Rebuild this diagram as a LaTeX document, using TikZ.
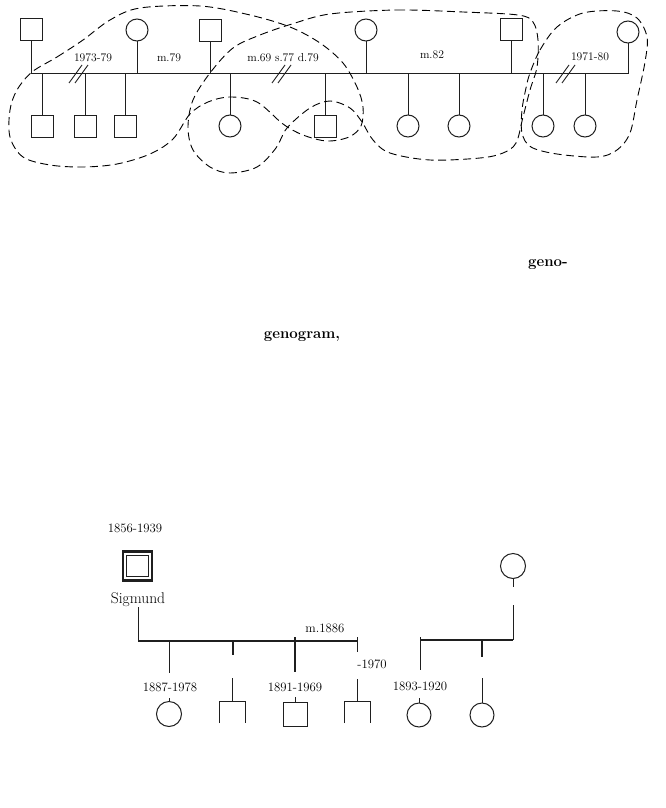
\documentclass[tikz,border=0pt]{standalone}
\usetikzlibrary{calc}
\tikzset{
  rel/.style={line width=0.9pt,draw=black!88},
  thickrel/.style={line width=1.8pt,draw=black!88},
  famline/.style={line width=2.3pt,draw=black!88},
  sq/.style={draw=black!88,line width=1pt,minimum size=22pt,inner sep=0pt},
  circ/.style={circle,draw=black!88,line width=1pt,minimum size=22pt,inner sep=0pt},
  opensq/.style={minimum width=25pt,minimum height=21pt,inner sep=0pt},
  boundary/.style={line width=0.9pt,dash pattern=on 8pt off 4.5pt,smooth cycle,tension=0.55},
  toplabel/.style={font=\fontsize{11.6}{13}\selectfont,inner sep=0pt,anchor=base},
  datelabel/.style={font=\fontsize{12.8}{14}\selectfont,inner sep=0pt,anchor=base},
  namelabel/.style={font=\fontsize{15.5}{17}\selectfont,inner sep=0pt,anchor=base},
  cutword/.style={font=\fontsize{15}{17}\selectfont\bfseries,inner sep=0pt,anchor=base}
}

\begin{document}
\begin{tikzpicture}[x=1pt,y=-1pt]
  \useasboundingbox (0,0) rectangle (665,808);

  % upper chart: three marriages on one line
  \coordinate (bar) at (0,73);
  \node[sq]   (m1) at (31,30) {};
  \node[circ] (f1) at (137,30) {};
  \node[sq]   (m2) at (210,31) {};
  \node[circ] (f2) at (366,30) {};
  \node[sq]   (m3) at (511,30) {};
  \node[circ] (f3) at (628,32) {};

  \draw[rel] (m1) -- (m1 |- bar) -- (f3 |- bar) -- (f3);
  \foreach \p in {f1,m2,f2,m3}
    \draw[rel] (\p) -- (\p |- bar);

  \foreach \n/\x/\s in {c1/42/sq,c2/85/sq,c3/125/sq,c4/230/circ,c5/325/sq,
                        c6/408/circ,c7/459/circ,c8/543/circ,c9/585/circ} {
    \node[\s] (\n) at (\x,126) {};
    \draw[rel] (\n) -- (\n |- bar);
  }

  \foreach \x in {79,282,566} {
    \draw[rel] (\x-10,83) -- (\x+3,65);
    \draw[rel] (\x-4,83) -- (\x+9,65);
  }

  \node[toplabel] (d1) at (93,62) {1973-79};
  \node[toplabel] (d2) at (169,62) {m.79};
  \node[toplabel] (d3) at (283,62) {m.69 s.77 d.79};
  \node[toplabel] (d4) at (432,59) {m.82};
  \node[toplabel] (d5) at (590,61) {1971-80};

  % household boundaries
  \draw[boundary] plot coordinates {(32,72) (57,57) (83,40) (110,20) (140,8)
    (200,6) (250,15) (290,27) (320,43) (343,63) (357,87) (363,107) (361,126)
    (349,137) (327,141) (303,135) (283,124) (257,102) (230,97) (208,102)
    (190,114) (173,139) (150,154) (117,164) (83,167) (50,165) (23,157)
    (10,137) (10,110) (17,90)};
  \draw[boundary] plot coordinates {(330,14) (397,10) (463,12) (518,15)
    (533,22) (538,40) (537,67) (530,90) (523,117) (516,143) (503,153)
    (480,158) (430,160) (390,153) (373,140) (362,122) (350,108) (330,101)
    (310,108) (287,128) (276,148) (257,167) (230,173) (210,167) (193,150)
    (188,127) (193,100) (210,73) (233,48) (260,35) (292,24)};
  \draw[boundary] plot coordinates {(530,73) (540,50) (557,27) (583,13)
    (617,11) (637,18) (647,37) (645,62) (637,100) (630,133) (617,150)
    (597,157) (557,154) (531,147) (522,133) (522,110) (526,88)};

  % loose words
  \node[cutword] (w1) at (548,266) {geno-};
  \node[cutword] (w2) at (302,338) {genogram,};

  % lower chart
  \node[sq,minimum size=29pt,line width=2.3pt] (sig) at (137.5,566) {};
  \node[sq,minimum size=21.5pt,line width=1.3pt] (sigin) at (sig) {};
  \node[datelabel] (sigdate) at (135,532) {1856-1939};
  \node[namelabel] (signame) at (138,603) {Sigmund};

  \coordinate (fl) at (138,641);
  \coordinate (fr) at (358,641);
  \coordinate (sigstem) at (138,607);
  \draw[rel] (sigstem) -- (fl);
  \draw[famline] (fl) -- (fr);
  \foreach \x/\a/\b/\st in {169/641/673/rel,233/641/655/thickrel,
                            295/637/672/thickrel,357/637/652/rel}
    \draw[\st] (\x,\a) -- (\x,\b);
  \node[datelabel] (marr) at (325,632) {m.1886};
  \node[datelabel] (k4date) at (372,668) {-1970};

  \node[circ,minimum size=25pt] (k1) at (169,714) {};
  \node[opensq] (k2) at (232.5,712.5) {};
  \node[sq,minimum size=24pt] (k3) at (295.5,714.5) {};
  \node[opensq] (k4) at (357.5,712.5) {};
  \foreach \k in {k2,k4}
    \draw[rel] (\k.south west) -- (\k.north west) -- (\k.north east) -- (\k.south east);
  \node[datelabel] (k1date) at (170,691) {1887-1978};
  \node[datelabel] (k3date) at (295,691) {1891-1969};
  \draw[rel] (k1.north) -- ++(0,-3);
  \draw[rel] (k3.north) -- ++(0,-5);
  \draw[rel] (k2.north) -- ++(0,-24);
  \draw[rel] (k4.north) -- ++(0,-23);

  \node[circ,minimum size=25pt] (mo) at (513,566) {};
  \coordinate (ml) at (420,640);
  \coordinate (mr) at (513,640);
  \draw[rel] (mo.south) -- ++(0,8);
  \draw[rel] (513,605) -- (mr);
  \draw[famline] (ml) -- (mr);
  \draw[rel] (420,637) -- (420,670);
  \draw[thickrel] (482,640) -- (482,657);
  \node[circ,minimum size=24pt] (k5) at (419,715) {};
  \node[circ,minimum size=24pt] (k6) at (482,715) {};
  \node[datelabel] (k5date) at (420,690) {1893-1920};
  \draw[rel] (k5.north) -- ++(0,-5);
  \draw[rel] (k6.north) -- ++(0,-25);
\end{tikzpicture}
\end{document}
